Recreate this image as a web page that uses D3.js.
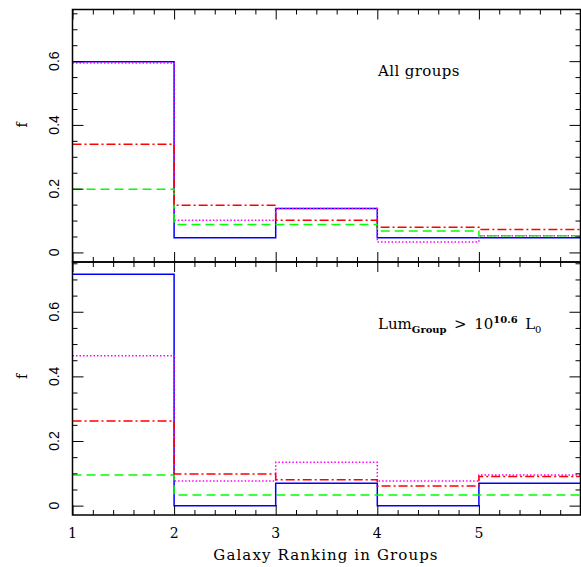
<!DOCTYPE html>
<html>
<head>
<meta charset="utf-8">
<script src="https://cdn.jsdelivr.net/npm/d3@7"></script>
<style>
  html, body { margin: 0; padding: 0; background: #fff; }
  svg { display: block; }
</style>
</head>
<body>
<svg id="chart" width="581" height="567"></svg>
<script>
// bin left edges (galaxy ranking), last bin ends at 6
const bins = [1, 2, 3, 4, 5];
const xTickLabels = [1, 2, 3, 4, 5];
const yTickLabels = [0, 0.2, 0.4, 0.6];

// top panel: all groups
const allBlue = [0.598, 0.046, 0.138, 0.046, 0.046];
const allMagenta = [0.594, 0.101, 0.138, 0.033, 0.052];
const allGreen = [0.198, 0.088, 0.088, 0.067, 0.052];
const allRed = [0.339, 0.148, 0.101, 0.079, 0.072];

// bottom panel: bright groups
const lumBlue = [0.716, 0.0, 0.069, 0.0, 0.069];
const lumMagenta = [0.464, 0.076, 0.134, 0.076, 0.095];
const lumGreen = [0.095, 0.033, 0.033, 0.033, 0.033];
const lumRed = [0.262, 0.098, 0.080, 0.061, 0.090];

const left = 72.5;
const right = 580.5;
const svg = d3.select("#chart");

const x = d3.scaleLinear().domain([1, 6]).range([left, right]);

const panels = [
  {
    y: d3.scaleLinear().domain([-0.03, 0.762]).range([262, 9.5]),
    series: [allBlue, allMagenta, allGreen, allRed],
    showX: false,
  },
  {
    y: d3.scaleLinear().domain([-0.029, 0.754]).range([515, 262]),
    series: [lumBlue, lumMagenta, lumGreen, lumRed],
    showX: true,
  },
];

const styles = [
  { color: "#0000ff", dash: null },
  { color: "#ff00ff", dash: "1.5,2" },
  { color: "#00ff00", dash: "9,5" },
  { color: "#ff0000", dash: "9,3,2,3" },
];

const minorX = d3.range(1, 6.001, 0.2).filter((v) => Math.abs(v - Math.round(v)) > 1e-6);
const minorY = d3.range(0, 0.76, 0.05).filter((v) => Math.abs(v / 0.2 - Math.round(v / 0.2)) > 1e-6);

panels.forEach((p) => {
  const [y0, y1] = p.y.range();
  const g = svg.append("g");

  // histogram steps
  const line = d3
    .line()
    .curve(d3.curveStepAfter)
    .x((d) => x(d[0]))
    .y((d) => p.y(d[1]));

  p.series.forEach((vals, i) => {
    const pts = bins.map((b, j) => [b, vals[j]]);
    pts.push([6, vals[vals.length - 1]]);
    g.append("path")
      .datum(pts)
      .attr("fill", "none")
      .attr("stroke", styles[i].color)
      .attr("stroke-width", 1.5)
      .attr("stroke-dasharray", styles[i].dash)
      .attr("d", line);
  });

  // ticks on all four sides
  const tickAxis = (axis, tf, values, size) =>
    g.append("g")
      .attr("transform", tf)
      .call(axis.tickValues(values).tickSize(size).tickFormat(""))
      .call((s) => s.select(".domain").remove())
      .call((s) => s.selectAll("line").attr("stroke", "#000").attr("stroke-width", 1));

  tickAxis(d3.axisBottom(x), `translate(0,${y1})`, xTickLabels, 10);
  tickAxis(d3.axisBottom(x), `translate(0,${y1})`, minorX, 5);
  tickAxis(d3.axisTop(x), `translate(0,${y0})`, xTickLabels, 10);
  tickAxis(d3.axisTop(x), `translate(0,${y0})`, minorX, 5);
  tickAxis(d3.axisRight(p.y), `translate(${left},0)`, yTickLabels, 11);
  tickAxis(d3.axisRight(p.y), `translate(${left},0)`, minorY, 5);
  tickAxis(d3.axisLeft(p.y), `translate(${right},0)`, yTickLabels, 11);
  tickAxis(d3.axisLeft(p.y), `translate(${right},0)`, minorY, 5);

  // frame
  g.append("rect")
    .attr("x", left)
    .attr("y", y1)
    .attr("width", right - left)
    .attr("height", y0 - y1)
    .attr("fill", "none")
    .attr("stroke", "#000")
    .attr("stroke-width", 1.5);

  // y tick labels (rotated)
  yTickLabels.forEach((v) => {
    g.append("text")
      .attr("transform", `translate(59,${p.y(v)}) rotate(-90)`)
      .attr("text-anchor", "middle")
      .attr("font-family", "Liberation Sans, Arial, sans-serif")
      .attr("font-size", 14)
      .text(v === 0 ? "0" : d3.format(".1f")(v));
  });

  g.append("text")
    .attr("transform", `translate(27,${p.y(0.4)}) rotate(-90)`)
    .attr("text-anchor", "middle")
    .attr("font-family", "DejaVu Serif, serif")
    .attr("font-size", 14)
    .text("f");

  if (p.showX) {
    xTickLabels.forEach((v) => {
      svg.append("text")
        .attr("x", x(v))
        .attr("y", 538)
        .attr("text-anchor", "middle")
        .attr("font-family", "DejaVu Serif, serif")
        .attr("font-size", 14)
        .text(v);
    });
  }
});

svg.append("text")
  .attr("x", 326)
  .attr("y", 560)
  .attr("text-anchor", "middle")
  .attr("font-family", "DejaVu Serif, serif")
  .attr("font-size", 15)
  .attr("letter-spacing", 1.1)
  .text("Galaxy Ranking in Groups");

svg.append("text")
  .attr("x", 378)
  .attr("y", 76)
  .attr("font-family", "DejaVu Serif, serif")
  .attr("font-size", 15)
  .attr("letter-spacing", 0.4)
  .text("All groups");

const lum = svg.append("text")
  .attr("x", 378)
  .attr("y", 329)
  .attr("font-family", "DejaVu Serif, serif")
  .attr("font-size", 15);
lum.append("tspan").text("Lum");
lum.append("tspan").attr("font-size", 10).attr("font-weight", "bold").attr("dy", 4).text("Group");
lum.append("tspan").attr("dy", -4).text("\u2002>\u200210");
lum.append("tspan").attr("font-size", 10).attr("font-weight", "bold").attr("dy", -6).text("10.6");
lum.append("tspan").attr("dy", 6).text("\u2002L");
lum.append("tspan").attr("font-size", 10).attr("dy", 4).text("0");
</script>
</body>
</html>
